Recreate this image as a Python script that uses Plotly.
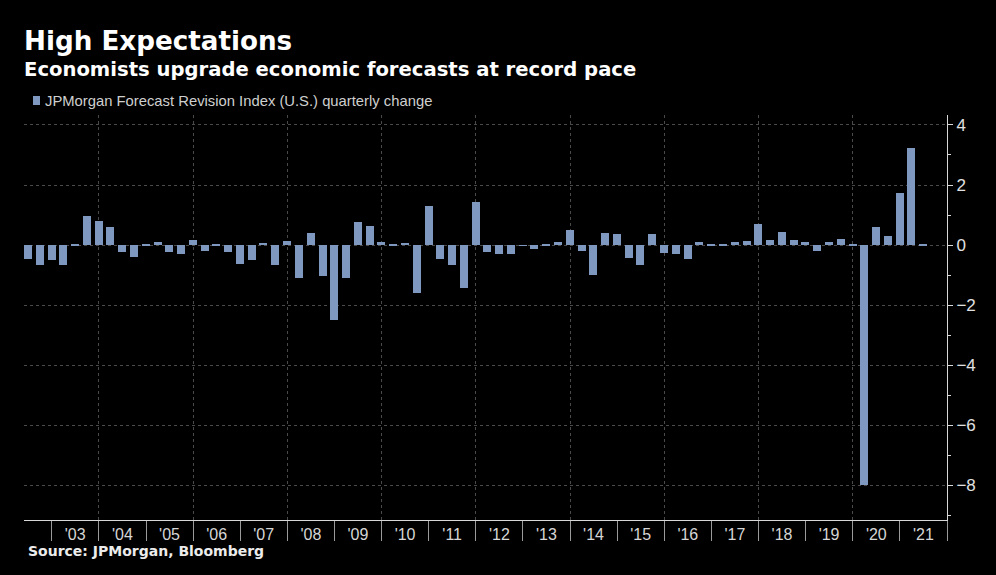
import pandas as pd
import plotly.graph_objects as go

# ---------------- data ----------------
quarter_start = "2002-06-30"   # first quarter-end date shown
values = [
    -0.47, -0.66, -0.50,                 # 2002 Q2-Q4
    -0.66, 0.03, 0.97, 0.80,             # 2003
    0.61, -0.24, -0.41, 0.03,            # 2004
    0.09, -0.24, -0.28, 0.17,            # 2005
    -0.20, 0.03, -0.23, -0.62,           # 2006
    -0.50, 0.07, -0.66, 0.12,            # 2007
    -1.08, 0.39, -1.04, -2.49,           # 2008
    -1.08, 0.76, 0.62, 0.09,             # 2009
    0.02, 0.07, -1.59, 1.29,             # 2010
    -0.47, -0.66, -1.43, 1.44,           # 2011
    -0.24, -0.28, -0.31, -0.03,          # 2012
    -0.14, 0.02, 0.11, 0.49,             # 2013
    -0.20, -0.98, 0.40, 0.38,            # 2014
    -0.44, -0.66, 0.36, -0.27,           # 2015
    -0.28, -0.47, 0.11, 0.02,            # 2016
    0.02, 0.11, 0.14, 0.69,              # 2017
    0.17, 0.43, 0.17, 0.09,              # 2018
    -0.20, 0.09, 0.20, 0.03,             # 2019
    -8.00, 0.60, 0.31, 1.72,             # 2020
    3.23, 0.02,                          # 2021 Q1-Q2
]
dates = pd.date_range(quarter_start, periods=len(values), freq="QE")

years = list(range(2003, 2022))
tick_labels = ["'" + str(y)[2:] for y in years]
series_name = "JPMorgan Forecast Revision Index (U.S.) quarterly change"

title = "High Expectations"
subtitle = "Economists upgrade economic forecasts at record pace"
source = "Source: JPMorgan, Bloomberg"

# ---------------- styling / layout ----------------
W, H = 996, 575
M_L, M_R, M_T, M_B = 24, 49, 115, 55
BAR = "#7f98c0"
BG = "#000000"
GRID = "#4a4a4a"
x_range = ["2002-05-31", "2022-01-01"]
y_range = [-9.15, 4.33]

def px_x(p):
    return (p - M_L) / (W - M_L - M_R)

def px_y(p):
    return (H - M_B - p) / (H - M_T - M_B)

fig = go.Figure()
fig.add_trace(go.Bar(
    x=dates, y=values, name=series_name,
    marker=dict(color=BAR, line=dict(width=0)),
    width=62 * 86400000, showlegend=False,
))
# helper trace so the overlaid grid axis is drawn
fig.add_trace(go.Scatter(
    x=[x_range[0]], y=[0], xaxis="x2", mode="markers",
    marker=dict(opacity=0), hoverinfo="skip", showlegend=False,
))

fig.update_layout(
    width=W, height=H, autosize=False,
    paper_bgcolor=BG, plot_bgcolor=BG,
    margin=dict(l=M_L, r=M_R, t=M_T, b=M_B),
    bargap=0,
    xaxis=dict(
        type="date", range=x_range,
        tickmode="array",
        tickvals=[f"{y}-07-02" for y in years],
        ticktext=tick_labels,
        ticks="", showgrid=False, zeroline=False,
        showline=True, linecolor="#d8d8d8", linewidth=1,
        tickfont=dict(family="Liberation Sans", size=16, color="#d6d6d6"),
        minor=dict(
            tickmode="array",
            tickvals=[f"{y}-01-01" for y in years + [2022]],
            ticks="outside", ticklen=20, tickcolor="#9a9a9a", tickwidth=1,
            showgrid=False,
        ),
    ),
    xaxis2=dict(
        type="date", range=x_range, overlaying="x",
        tickmode="array",
        tickvals=[f"{y}-01-01" for y in range(2004, 2022, 2)],
        showticklabels=False, ticks="",
        showgrid=True, gridcolor=GRID, gridwidth=1, griddash="dot",
        zeroline=False, showline=False,
    ),
    yaxis=dict(
        side="right", range=y_range,
        tickmode="array", tickvals=[-8, -6, -4, -2, 0, 2, 4],
        ticks="outside", ticklen=5, tickcolor="#d8d8d8",
        showgrid=True, gridcolor=GRID, gridwidth=1, griddash="dot",
        zeroline=False,
        showline=True, linecolor="#d8d8d8", linewidth=1,
        tickfont=dict(family="Liberation Sans", size=17, color="#e0e0e0"),
        minor=dict(tickmode="array", tickvals=[-9, -7, -5, -3, -1, 1, 3],
                   ticks="outside", ticklen=3, tickcolor="#d8d8d8", showgrid=False),
    ),
    font=dict(family="Liberation Sans", color="#e0e0e0"),
)

annos = [
    dict(text=f"<b>{title}</b>", x=px_x(22), y=px_y(41),
         font=dict(family="DejaVu Sans", size=26.2, color="#ffffff")),
    dict(text=f"<b>{subtitle}</b>", x=px_x(22), y=px_y(70),
         font=dict(family="DejaVu Sans", size=19.6, color="#ffffff")),
    dict(text=series_name, x=px_x(43), y=px_y(101),
         font=dict(family="Liberation Sans", size=14.8, color="#cfcfcf")),
    dict(text=f"<b>{source}</b>", x=px_x(26), y=px_y(551),
         font=dict(family="DejaVu Sans", size=14, color="#ececec")),
]
for a in annos:
    fig.add_annotation(xref="paper", yref="paper", xanchor="left", yanchor="middle",
                       showarrow=False, **a)

fig.add_shape(type="rect", xref="paper", yref="paper",
              x0=px_x(33), x1=px_x(40), y0=px_y(105), y1=px_y(96),
              fillcolor=BAR, line=dict(width=0))

fig.write_html("out.html")
